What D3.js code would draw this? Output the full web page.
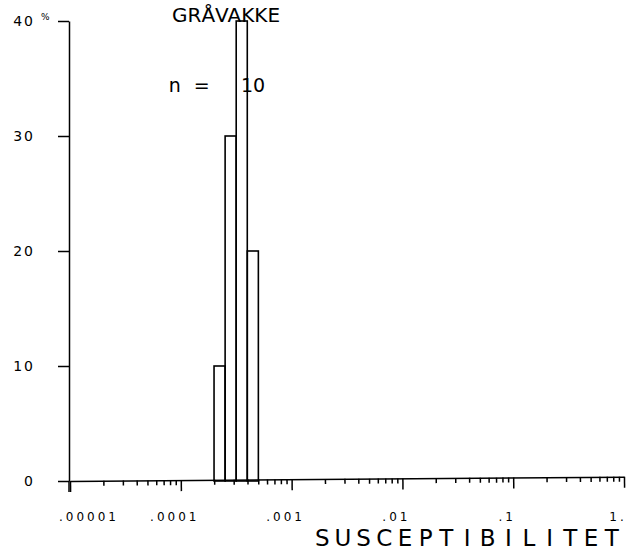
<!DOCTYPE html>
<html>
<head>
<meta charset="utf-8">
<script src="https://cdn.jsdelivr.net/npm/d3@7/dist/d3.min.js"></script>
<style>
  html, body { margin: 0; padding: 0; background: #fff; }
  svg { display: block; }
  text { font-family: "DejaVu Sans", "Liberation Sans", sans-serif; fill: #000; }
</style>
</head>
<body>
<script>
// Susceptibility histogram for greywacke (GRÅVAKKE), log-binned, percent of samples
const binLowerLog10 = [-3.7, -3.6, -3.5, -3.4];   // lower edge of each bin, log10(susceptibility)
const binWidthLog10 = 0.1;
const binPercent    = [10, 30, 40, 20];
const sampleCount   = 10;

const rockName      = "GRÅVAKKE";
const axisTitle     = "SUSCEPTIBILITET";
const xTickValues   = [1e-5, 1e-4, 1e-3, 1e-2, 1e-1, 1];
const xTickLabels   = [".00001", ".0001", ".001", ".01", ".1", "1."];
const yTickValues   = [0, 10, 20, 30, 40];
const yTickLabels   = ["0", "10", "20", "30", "40"];

const W = 626, H = 553;
const svg = d3.select("body").append("svg").attr("width", W).attr("height", H);

const x = d3.scaleLog().domain([1e-5, 1]).range([70, 624]);
const y = d3.scaleLinear().domain([0, 40]).range([481, 21]);

const ink = "#000";

// Draw a string with every character centred in a fixed-width cell (plotter lettering)
function cellText(g, str, x0, baseY, cell, size) {
  const t = g.append("g");
  Array.from(str).forEach((ch, i) => {
    if (ch === " ") return;
    t.append("text")
      .attr("x", x0 + cell * (i + 0.5))
      .attr("y", baseY)
      .attr("text-anchor", "middle")
      .attr("font-size", size)
      .text(ch);
  });
  return t;
}

// ---- bars (outlined, unfilled)
const bars = binLowerLog10.map((lo, i) => ({
  x0: Math.pow(10, lo), x1: Math.pow(10, lo + binWidthLog10), v: binPercent[i]
}));
svg.append("g").selectAll("rect").data(bars).join("rect")
  .attr("x", d => x(d.x0))
  .attr("width", d => x(d.x1) - x(d.x0))
  .attr("y", d => y(d.v))
  .attr("height", d => y(0) - y(d.v))
  .attr("fill", "none")
  .attr("stroke", ink)
  .attr("stroke-width", 1.6);

// ---- x axis: major and minor ticks pointing down, baseline drifting slightly upward
const xg = svg.append("g")
  .attr("transform", `translate(0,${y(0)}) rotate(-0.45, ${x(1e-5)}, 0)`);

const minorTicks = x.ticks().filter(v => !xTickValues.some(m => Math.abs(m - v) / m < 1e-6));
xg.append("g")
  .call(d3.axisBottom(x).tickValues(minorTicks).tickSize(5).tickSizeOuter(0).tickFormat(""))
  .call(g => g.select(".domain").remove());
xg.append("g")
  .call(d3.axisBottom(x).tickValues(xTickValues).tickSize(11).tickSizeOuter(0).tickFormat(""));
xg.selectAll("path, line").attr("stroke", ink).attr("stroke-width", 1.5);

// labels for the decades
const xl = svg.append("g");
xTickValues.forEach((v, i) => {
  const t = xl.append("text")
    .attr("x", x(v) - 6)
    .attr("y", 521)
    .attr("text-anchor", "middle")
    .attr("font-size", 12)
    .attr("letter-spacing", 3)
    .text(xTickLabels[i]);
  // keep the first label from running past the left end of the axis
  const bb = t.node().getBBox();
  const minX = x(1e-5) - 11;
  if (bb.x < minX) t.attr("x", +t.attr("x") + (minX - bb.x));
});

// axis title
cellText(svg, axisTitle, 312, 546, 20.67, 23);

// ---- y axis
const yg = svg.append("g").attr("transform", `translate(${x(1e-5) - 1},0)`);
yg.call(d3.axisLeft(y).tickValues(yTickValues).tickSize(11).tickSizeOuter(0).tickFormat(""));
yg.selectAll("path, line").attr("stroke", ink).attr("stroke-width", 1.5);
// axis line continues a little below the baseline
yg.append("line").attr("x1", 0).attr("x2", 0).attr("y1", y(0)).attr("y2", y(0) + 11)
  .attr("stroke", ink).attr("stroke-width", 1.5);

yTickValues.forEach((v, i) => {
  svg.append("text")
    .attr("x", 35)
    .attr("y", y(v) + 5)
    .attr("text-anchor", "end")
    .attr("font-size", 14)
    .attr("letter-spacing", 2)
    .text(yTickLabels[i]);
});
// percent sign next to the top label
svg.append("text").attr("x", 41).attr("y", y(40) - 1).attr("font-size", 9).text("%");

// ---- heading and sample count
svg.append("text").attr("x", 172).attr("y", 22).attr("font-size", 20).text(rockName);
cellText(svg, "n =", 168, 92, 13.5, 19);
svg.append("text").attr("x", 241).attr("y", 92).attr("font-size", 19).text(sampleCount);
</script>
</body>
</html>
